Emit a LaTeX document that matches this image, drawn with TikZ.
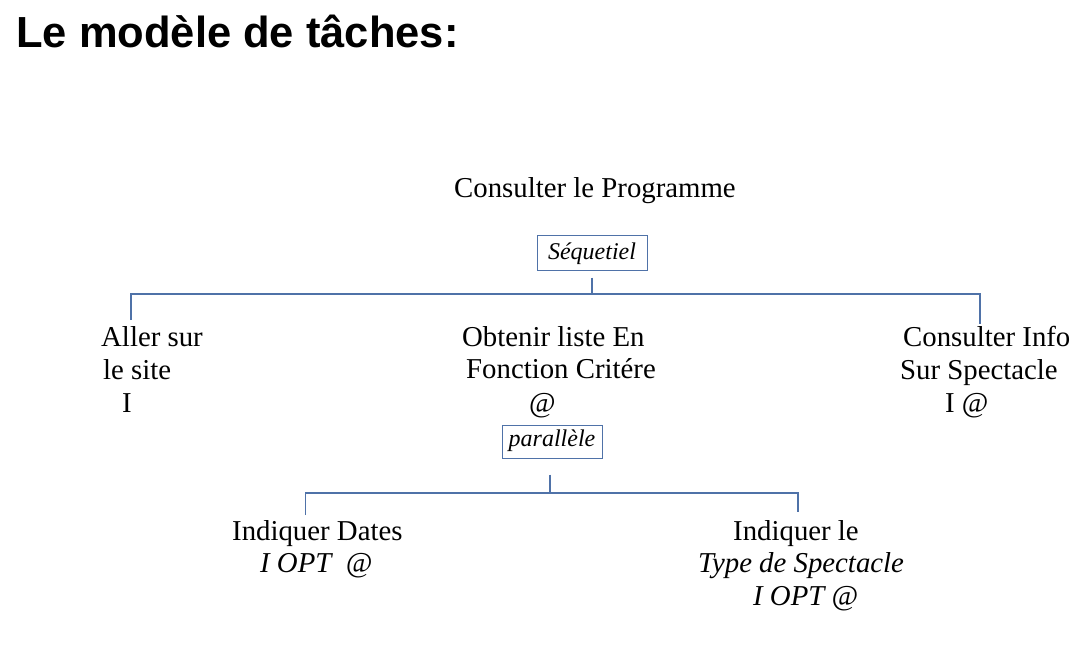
\documentclass[tikz,border=0pt]{standalone}
\usepackage{fontspec}
\setmainfont{Liberation Serif}
\newfontfamily\titlefont{Liberation Sans}
\definecolor{linkblue}{RGB}{79,114,168}
\tikzset{
  txt/.style={inner sep=0pt, anchor=base west, font=\fontsize{28.8}{33}\selectfont},
  itxt/.style={txt, font=\fontsize{28.8}{33}\selectfont\itshape},
  opbox/.style={draw=linkblue, line width=1pt, inner sep=0pt, font=\fontsize{24}{28}\selectfont\itshape},
  conn/.style={draw=linkblue, line width=1.2pt},
}
\begin{document}
\begin{tikzpicture}[x=1pt,y=-1pt]
\useasboundingbox (0,0) rectangle (1077,650);
% title
\node[inner sep=0pt, anchor=base west, font=\fontsize{43.5}{50}\selectfont\titlefont\bfseries] (title) at (16,48) {Le modèle de tâches:};
% root
\node[txt] (root) at (454,197) {Consulter le Programme};
\node[opbox, minimum width=110pt, minimum height=35pt, text height=18pt, text depth=5pt] (seq) at (592,252.5) {Séquetiel};
% level 1
\node[txt] (aller) at (101,346) {Aller sur};
\node[txt] (aller2) at (103,379) {le site};
\node[txt] (aller3) at (122,412) {I};
\node[txt] (obt) at (462,346) {Obtenir liste En};
\node[txt] (obt2) at (466,378) {Fonction Critére};
\node[txt] (obt3) at (529,412) {@};
\node[txt] (info) at (903,346) {Consulter Info};
\node[txt] (info2) at (900,379) {Sur Spectacle};
\node[txt] (info3) at (945,412) {I @};
\node[opbox, minimum width=100pt, minimum height=33pt, text height=15pt, text depth=6pt] (par) at (552,441.5) {parallèle};
% level 2
\node[txt] (dates) at (232,540) {Indiquer Dates};
\node[itxt] (dates2) at (260,572) {I OPT\ \ @};
\node[txt] (type) at (733,540) {Indiquer le};
\node[itxt] (type2) at (698,572) {Type de Spectacle};
\node[itxt] (type3) at (753,605) {I OPT @};
% connectors
\coordinate (j1) at (592,294);
\coordinate (a1) at (131,320);
\coordinate (c1) at (980,324);
\draw[conn] ([yshift=-7pt]seq.south) -- (j1);
\draw[conn] (a1) |- (j1) -| (c1);
\coordinate (j2) at (550,493);
\coordinate (d1) at (305.5,515);
\coordinate (t1) at (798,512);
\draw[conn] ([xshift=-2pt,yshift=-16pt]par.south) -- (j2);
\draw[conn] (d1) |- (j2) -| (t1);
\end{tikzpicture}
\end{document}
